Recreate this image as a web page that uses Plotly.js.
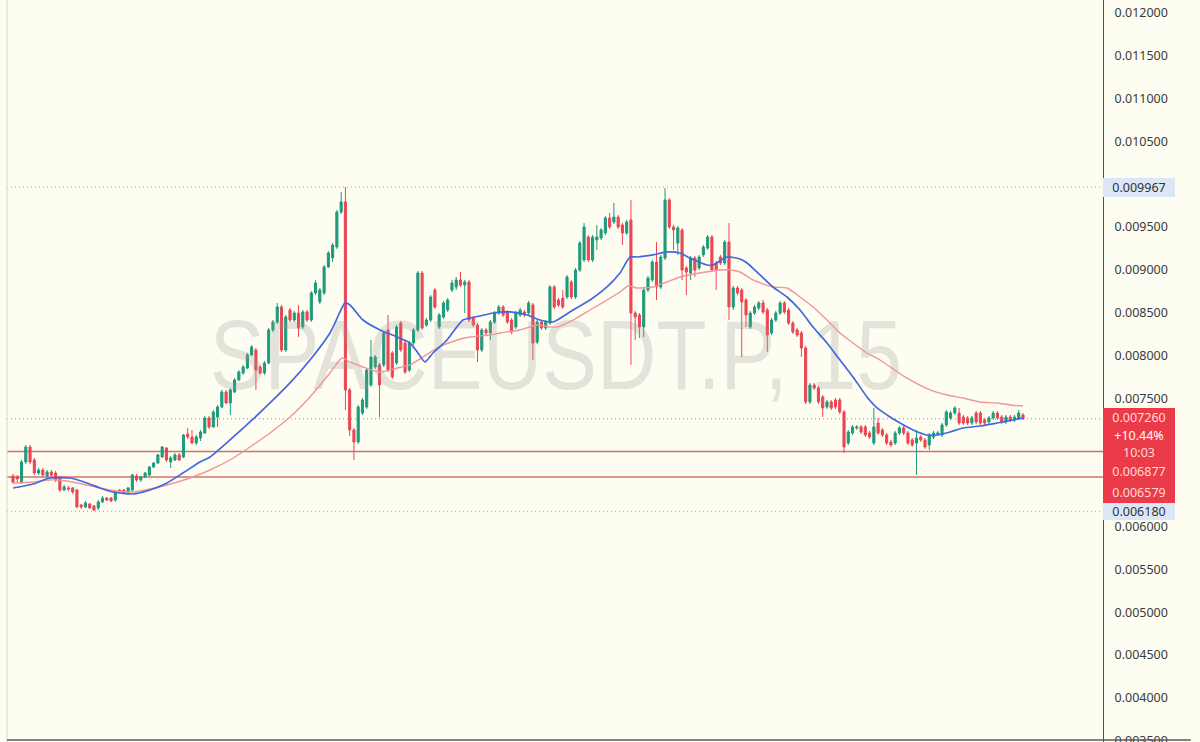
<!DOCTYPE html>
<html>
<head>
<meta charset="utf-8">
<script src="https://cdn.plot.ly/plotly-3.0.1.min.js"></script>
<style>
html,body{margin:0;padding:0;width:1200px;height:742px;overflow:hidden;background:#fefdf1;}
#chart{width:1200px;height:780px;}
</style>
</head>
<body>
<div id="chart"></div>
<script>
// OHLC values (SPACEUSDT.P, 15m)
const openP = [
0.006592,0.006581,0.006522,0.006756,0.006931,0.006779,0.006627,0.006662,0.006592,0.006639,
0.006627,0.006569,0.006429,0.006452,0.006452,0.006429,0.006254,0.006230,0.006265,0.006242,
0.006219,0.006289,0.006335,0.006335,0.006312,0.006429,0.006429,0.006405,0.006429,0.006592,
0.006546,0.006581,0.006604,0.006697,0.006744,0.006814,0.006919,0.006756,0.006779,0.006838,
0.006814,0.007083,0.007048,0.006978,0.007036,0.007095,0.007270,0.007165,0.007281,0.007398,
0.007573,0.007445,0.007573,0.007714,0.007795,0.007854,0.008006,0.008064,0.007865,0.007795,
0.007912,0.008298,0.008391,0.008566,0.008064,0.008531,0.008414,0.008496,0.008333,0.008508,
0.008414,0.008730,0.008625,0.008730,0.009033,0.009139,0.009267,0.009676,0.009793,0.007597,
0.007130,0.006989,0.007328,0.007398,0.007655,0.007865,0.007889,0.007889,0.008298,0.008029,
0.007912,0.008379,0.008146,0.007830,0.008146,0.008298,0.008963,0.008356,0.008414,0.008765,
0.008333,0.008449,0.008531,0.008765,0.008800,0.008882,0.008823,0.008858,0.008438,0.008356,
0.008064,0.008298,0.008263,0.008391,0.008496,0.008566,0.008508,0.008414,0.008333,0.008473,
0.008508,0.008496,0.008590,0.008157,0.008391,0.008321,0.008379,0.008800,0.008648,0.008671,
0.008683,0.008858,0.008683,0.008998,0.009115,0.009384,0.009115,0.009349,0.009372,0.009431,
0.009606,0.009559,0.009617,0.009524,0.009431,0.009582,0.008496,0.008473,0.008333,0.008765,
0.008882,0.009092,0.008800,0.009139,0.009816,0.009501,0.009314,0.009466,0.009022,0.008963,
0.009139,0.009022,0.009174,0.009255,0.009384,0.009080,0.009150,0.009080,0.009325,0.008566,
0.008788,0.008765,0.008648,0.008333,0.008496,0.008555,0.008613,0.008531,0.008263,0.008414,
0.008496,0.008613,0.008531,0.008379,0.008298,0.008263,0.008087,0.007457,0.007655,0.007620,
0.007515,0.007398,0.007457,0.007480,0.007480,0.007340,0.006978,0.007095,0.007153,0.007165,
0.007165,0.007095,0.006978,0.007211,0.007130,0.007071,0.006989,0.006978,0.007095,0.007153,
0.007095,0.007013,0.006978,0.007048,0.007013,0.006954,0.007048,0.007083,0.007071,0.007188,
0.007270,0.007328,0.007328,0.007281,0.007270,0.007211,0.007328,0.007328,0.007246,0.007223,
0.007270,0.007328,0.007281,0.007223,0.007281,0.007246,0.007270,0.007305
];
const highP = [
0.006616,0.006604,0.006779,0.006954,0.006954,0.006803,0.006686,0.006686,0.006662,0.006662,
0.006651,0.006592,0.006487,0.006476,0.006464,0.006440,0.006265,0.006300,0.006277,0.006254,
0.006312,0.006359,0.006347,0.006347,0.006429,0.006440,0.006440,0.006464,0.006616,0.006616,
0.006592,0.006639,0.006709,0.006756,0.006849,0.006943,0.006931,0.006826,0.006861,0.006861,
0.007083,0.007153,0.007130,0.007071,0.007130,0.007293,0.007293,0.007363,0.007422,0.007597,
0.007597,0.007620,0.007737,0.007830,0.007889,0.008029,0.008122,0.008087,0.007889,0.007936,
0.008321,0.008414,0.008613,0.008590,0.008473,0.008555,0.008520,0.008590,0.008531,0.008531,
0.008753,0.008882,0.008788,0.009057,0.009220,0.009314,0.009699,0.009909,0.009968,0.007620,
0.007153,0.007422,0.007503,0.007854,0.008181,0.008006,0.007912,0.008286,0.008473,0.008052,
0.008356,0.008403,0.008169,0.008169,0.008321,0.008987,0.008987,0.008438,0.008706,0.008788,
0.008496,0.008636,0.008671,0.008882,0.008917,0.008975,0.008882,0.008882,0.008461,0.008379,
0.008321,0.008321,0.008414,0.008520,0.008590,0.008590,0.008531,0.008438,0.008520,0.008555,
0.008531,0.008636,0.008613,0.008414,0.008414,0.008414,0.008823,0.008823,0.008671,0.008765,
0.008940,0.008882,0.009022,0.009337,0.009547,0.009407,0.009407,0.009524,0.009489,0.009629,
0.009664,0.009781,0.009641,0.009547,0.009582,0.009816,0.008520,0.008496,0.008788,0.008928,
0.009115,0.009325,0.009174,0.009956,0.009839,0.009524,0.009512,0.009489,0.009045,0.009162,
0.009162,0.009174,0.009290,0.009407,0.009407,0.009104,0.009174,0.009349,0.009547,0.008812,
0.008812,0.008788,0.008671,0.008520,0.008590,0.008636,0.008648,0.008555,0.008438,0.008520,
0.008636,0.008636,0.008555,0.008403,0.008321,0.008286,0.008111,0.007679,0.007679,0.007644,
0.007538,0.007480,0.007480,0.007503,0.007503,0.007363,0.007130,0.007188,0.007188,0.007188,
0.007188,0.007118,0.007387,0.007270,0.007153,0.007095,0.007013,0.007118,0.007176,0.007176,
0.007118,0.007036,0.007130,0.007071,0.007036,0.007095,0.007118,0.007118,0.007211,0.007363,
0.007352,0.007410,0.007387,0.007305,0.007293,0.007293,0.007352,0.007352,0.007270,0.007293,
0.007352,0.007352,0.007305,0.007305,0.007305,0.007305,0.007363,0.007328
];
const lowP = [
0.006499,0.006511,0.006499,0.006732,0.006732,0.006604,0.006604,0.006581,0.006569,0.006581,
0.006522,0.006405,0.006417,0.006417,0.006382,0.006219,0.006207,0.006219,0.006207,0.006184,
0.006195,0.006277,0.006300,0.006289,0.006289,0.006394,0.006382,0.006382,0.006417,0.006522,
0.006522,0.006569,0.006592,0.006686,0.006732,0.006803,0.006756,0.006686,0.006768,0.006768,
0.006803,0.007024,0.006966,0.006954,0.007001,0.007083,0.007141,0.007153,0.007165,0.007387,
0.007433,0.007305,0.007562,0.007702,0.007772,0.007842,0.007994,0.007597,0.007772,0.007772,
0.007900,0.008274,0.008368,0.008041,0.008041,0.008391,0.008391,0.008216,0.008309,0.008391,
0.008391,0.008706,0.008601,0.008706,0.009022,0.009092,0.009244,0.009652,0.007363,0.007060,
0.006779,0.006966,0.007305,0.007375,0.007632,0.007842,0.007281,0.007865,0.007807,0.007725,
0.007889,0.008041,0.007784,0.007807,0.008122,0.008274,0.008298,0.008333,0.008391,0.008543,
0.008309,0.008426,0.008508,0.008741,0.008765,0.008800,0.008496,0.008391,0.008333,0.007924,
0.008041,0.008239,0.008181,0.008368,0.008473,0.008449,0.008368,0.008251,0.008309,0.008449,
0.008449,0.008473,0.007947,0.008134,0.008298,0.008298,0.008356,0.008543,0.008566,0.008543,
0.008660,0.008660,0.008660,0.008975,0.009092,0.009092,0.009092,0.009232,0.009349,0.009407,
0.009477,0.009536,0.009477,0.009290,0.009407,0.007889,0.008181,0.008204,0.008216,0.008741,
0.008858,0.008648,0.008776,0.009115,0.009477,0.009232,0.009174,0.008882,0.008706,0.008882,
0.008917,0.008998,0.009150,0.009232,0.008975,0.008765,0.009057,0.009057,0.008414,0.008531,
0.008706,0.007982,0.008333,0.008309,0.008473,0.008531,0.008484,0.008041,0.008239,0.008391,
0.008473,0.008484,0.008356,0.008251,0.008216,0.007982,0.007433,0.007433,0.007597,0.007433,
0.007281,0.007375,0.007363,0.007375,0.007316,0.006861,0.006954,0.007071,0.007130,0.007083,
0.007048,0.007024,0.006954,0.007071,0.007048,0.006954,0.006931,0.006954,0.007071,0.007071,
0.006954,0.006931,0.006604,0.006989,0.006908,0.006896,0.007024,0.007060,0.007048,0.007165,
0.007246,0.007305,0.007188,0.007188,0.007188,0.007188,0.007200,0.007188,0.007188,0.007200,
0.007246,0.007246,0.007200,0.007200,0.007223,0.007223,0.007246,0.007246
];
const closeP = [
0.006522,0.006557,0.006756,0.006931,0.006756,0.006627,0.006662,0.006604,0.006639,0.006604,
0.006546,0.006429,0.006464,0.006440,0.006405,0.006230,0.006230,0.006277,0.006219,0.006195,
0.006289,0.006335,0.006312,0.006300,0.006405,0.006405,0.006394,0.006452,0.006604,0.006546,
0.006581,0.006627,0.006697,0.006744,0.006838,0.006931,0.006779,0.006803,0.006838,0.006779,
0.007071,0.007048,0.006978,0.007048,0.007106,0.007270,0.007165,0.007340,0.007398,0.007573,
0.007445,0.007597,0.007714,0.007807,0.007865,0.008006,0.008099,0.007830,0.007795,0.007912,
0.008298,0.008391,0.008566,0.008064,0.008449,0.008414,0.008496,0.008321,0.008508,0.008414,
0.008730,0.008847,0.008765,0.009033,0.009197,0.009290,0.009676,0.009793,0.007597,0.007130,
0.006989,0.007398,0.007480,0.007830,0.007982,0.007982,0.007655,0.008263,0.007830,0.007749,
0.008333,0.008064,0.007807,0.008146,0.008298,0.008963,0.008321,0.008414,0.008683,0.008566,
0.008473,0.008613,0.008648,0.008847,0.008882,0.008823,0.008858,0.008414,0.008356,0.008064,
0.008298,0.008263,0.008391,0.008496,0.008566,0.008473,0.008391,0.008274,0.008496,0.008531,
0.008473,0.008613,0.008146,0.008391,0.008321,0.008391,0.008800,0.008566,0.008590,0.008566,
0.008917,0.008683,0.008998,0.009314,0.009501,0.009115,0.009384,0.009384,0.009466,0.009606,
0.009501,0.009617,0.009501,0.009431,0.009559,0.008496,0.008449,0.008333,0.008765,0.008905,
0.009092,0.008800,0.009150,0.009816,0.009501,0.009466,0.009489,0.008998,0.008975,0.009139,
0.008998,0.009150,0.009267,0.009384,0.008998,0.008998,0.009080,0.009325,0.008566,0.008788,
0.008730,0.008625,0.008473,0.008496,0.008566,0.008613,0.008508,0.008239,0.008414,0.008496,
0.008613,0.008508,0.008379,0.008274,0.008239,0.008087,0.007457,0.007655,0.007620,0.007457,
0.007387,0.007457,0.007387,0.007398,0.007340,0.006931,0.007106,0.007165,0.007165,0.007106,
0.007071,0.007048,0.007165,0.007095,0.007071,0.006978,0.006954,0.007095,0.007153,0.007095,
0.006978,0.006954,0.007036,0.007013,0.006931,0.007071,0.007095,0.007095,0.007188,0.007340,
0.007328,0.007387,0.007211,0.007211,0.007211,0.007270,0.007223,0.007211,0.007211,0.007270,
0.007328,0.007270,0.007223,0.007281,0.007246,0.007281,0.007328,0.007260
];
// Moving averages read at key points (x = candle index)
const blueX = [0,4.69,8.68,13.38,17.36,20.41,23.47,28.16,32.15,36.14,39.89,43.88,46.23,50.92,55.61,60.31,65.0,69.69,74.38,76.73,77.90,79.08,82.13,86.12,90.11,93.16,95.03,96.68,98.55,101.84,105.59,109.58,112.63,116.62,120.61,123.66,126.71,131.41,135.40,139.38,142.43,144.78,146.42,150.18,153.46,156.51,158.86,162.85,164.26,167.54,170.59,172.24,175.29,178.34,181.62,184.67,187.72,191.01,194.06,197.11,200.40,202.74,205.09,208.14,211.19,214.47,216.82,219.87,222.92,226.91,230.90,234.65,237];
const blueY = [0.006452,0.006499,0.006569,0.006569,0.006511,0.006452,0.006405,0.006382,0.006429,0.006511,0.006627,0.006756,0.006814,0.007013,0.007223,0.007445,0.007679,0.007947,0.008263,0.008508,0.008613,0.008590,0.008414,0.008298,0.008216,0.008146,0.008029,0.007924,0.008029,0.008181,0.008414,0.008461,0.008496,0.008508,0.008473,0.008414,0.008391,0.008531,0.008648,0.008800,0.008963,0.009150,0.009150,0.009174,0.009209,0.009197,0.009139,0.009057,0.009057,0.009150,0.009127,0.009080,0.008940,0.008800,0.008683,0.008531,0.008333,0.008146,0.007947,0.007749,0.007515,0.007387,0.007305,0.007211,0.007130,0.007071,0.007071,0.007106,0.007153,0.007176,0.007211,0.007246,0.007270];
const pinkX = [0,4.69,8.68,12.67,17.36,20.41,24.40,28.16,32.15,36.14,41.53,46.23,50.92,55.61,60.31,65.0,69.69,74.38,77.20,79.08,82.13,86.12,90.11,93.16,96.21,99.49,104.19,107.24,111.93,114.28,118.97,122.96,126.01,127.65,131.41,135.40,139.38,142.43,144.31,146.42,150.18,153.46,156.51,161.21,165.90,168.25,170.59,173.64,178.34,181.62,184.67,187.72,191.01,194.06,197.11,200.40,203.44,209.31,215.18,219.17,222.92,226.91,230.90,233.95,237];
const pinkY = [0.006511,0.006522,0.006546,0.006534,0.006487,0.006452,0.006417,0.006405,0.006440,0.006487,0.006569,0.006662,0.006779,0.006931,0.007095,0.007281,0.007515,0.007795,0.007971,0.007924,0.007865,0.007807,0.007854,0.007889,0.007982,0.008087,0.008181,0.008216,0.008239,0.008263,0.008298,0.008356,0.008333,0.008333,0.008414,0.008531,0.008648,0.008741,0.008812,0.008788,0.008800,0.008858,0.008917,0.008963,0.008998,0.008998,0.008975,0.008882,0.008800,0.008788,0.008683,0.008566,0.008414,0.008263,0.008146,0.008029,0.007947,0.007749,0.007597,0.007538,0.007503,0.007457,0.007445,0.007422,0.007410];
// Axis ticks (those hidden behind the price tags in the reference are left out) and price marks
const tickVals = [0.0035,0.004,0.0045,0.005,0.0055,0.006,0.0075,0.008,0.0085,0.009,0.0095,0.0105,0.011,0.0115,0.012];
const highMark = 0.009967;
const lastPrice = 0.007260;
const level1 = 0.006877;
const level2 = 0.006579;
const lowMark = 0.006180;
const changeText = "+10.44%";
const timerText = "10:03";
const watermark = "SPACEUSDT.P, 15";

const idx = openP.map((_, i) => i);
const GREEN = '#1e9a7c', RED = '#eb4654';

const traces = [
  {type:'scatter', mode:'text', x:[127.4], y:[0.00789], text:[watermark],
   textfont:{family:'Liberation Sans, Arial', size:98, color:'rgba(150,150,150,0.25)'},
   hoverinfo:'skip', showlegend:false},
  {type:'scatter', mode:'lines', x:pinkX, y:pinkY, line:{color:'rgb(240,150,150)', width:1.4, shape:'spline', smoothing:0.6}, hoverinfo:'skip'},
  {type:'scatter', mode:'lines', x:blueX, y:blueY, line:{color:'rgb(66,104,222)', width:1.7, shape:'spline', smoothing:0.6}, hoverinfo:'skip'},
  {type:'candlestick', x:idx, open:openP, high:highP, low:lowP, close:closeP,
   increasing:{line:{color:GREEN, width:1}, fillcolor:GREEN},
   decreasing:{line:{color:RED, width:1}, fillcolor:RED},
   whiskerwidth:0, hoverinfo:'skip'}
];

function hline(y, color, dash, width){
  return {type:'line', xref:'paper', x0:0, x1:1, yref:'y', y0:y, y1:y, layer:'below',
          line:{color:color, width:width||1, dash:dash||'solid'}};
}
const shapes = [
  hline(highMark, 'rgb(165,165,165)', '1px,3px', 1),
  hline(lastPrice, 'rgb(225,110,110)', '1px,3px', 1),
  hline(level1, 'rgb(214,110,110)', 'solid', 1.5),
  hline(level2, 'rgb(214,110,110)', 'solid', 1.5),
  hline(lowMark, 'rgb(165,165,165)', '1px,3px', 1),
  {type:'line', xref:'paper', x0:0, x1:0, yref:'paper', y0:0, y1:1, line:{color:'rgb(215,215,210)', width:1}},
  {type:'line', xref:'paper', x0:0, x1:1.08, yref:'y', y0:0.003509, y1:0.003509, layer:'above', line:{color:'#5a5a5a', width:1.5}}
];

function tag(text, yc, h, bg, fc){
  return {xref:'paper', x:1, xanchor:'left', yref:'y', y:yc, yanchor:'middle', text:text, showarrow:false,
          bgcolor:bg, width:72, height:h, borderpad:0, borderwidth:0, align:'center',
          font:{family:'Noto Sans, Open Sans, sans-serif', size:12.5, color:fc}};
}
const fmt = v => v.toFixed(6);
const annotations = [
  tag(fmt(highMark), highMark, 19, '#dbe7f6', '#333'),
  tag(fmt(lowMark), 0.006176, 17, '#dbe7f6', '#333'),
  tag(fmt(lastPrice), 0.007276, 19, '#eb3a48', '#ffdcdc'),
  tag(changeText, 0.007065, 17, '#eb3a48', '#ffffff'),
  tag(timerText, 0.006867, 17, '#eb3a48', '#ffdcdc'),
  tag(fmt(level1), 0.006645, 21, '#eb3a48', '#ffdcdc'),
  tag(fmt(level2), 0.006400, 21, '#eb3a48', '#ffdcdc')
];

const layout = {
  width:1200, height:780,
  margin:{l:7, r:97, t:0, b:10},
  paper_bgcolor:'#fefdf1', plot_bgcolor:'#fefdf1',
  showlegend:false, hovermode:false, dragmode:false,
  xaxis:{visible:false, range:[-1.408, 255.77], rangeslider:{visible:false}, fixedrange:true},
  yaxis:{side:'right', range:[0.003158, 0.012152], showgrid:false, zeroline:false,
         showline:true, linecolor:'#505050', linewidth:1,
         tickvals:tickVals, tickformat:'.6f', ticks:'outside', ticklen:8, tickcolor:'rgba(0,0,0,0)',
         tickfont:{family:'Noto Sans, Open Sans, sans-serif', size:12.5, color:'#3a3a3a'}, fixedrange:true},
  shapes:shapes, annotations:annotations
};

Plotly.newPlot('chart', traces, layout, {staticPlot:true, displayModeBar:false}).then(gd => {
  // condense the watermark horizontally, as in the reference
  const t = gd.querySelector('.scatterlayer .trace .textpoint text');
  if (t) {
    const cx = parseFloat(t.getAttribute('x'));
    const s = 0.84;
    t.setAttribute('transform', 'translate(' + (cx * (1 - s)) + ',0) scale(' + s + ',1)');
  }
});
</script>
</body>
</html>
